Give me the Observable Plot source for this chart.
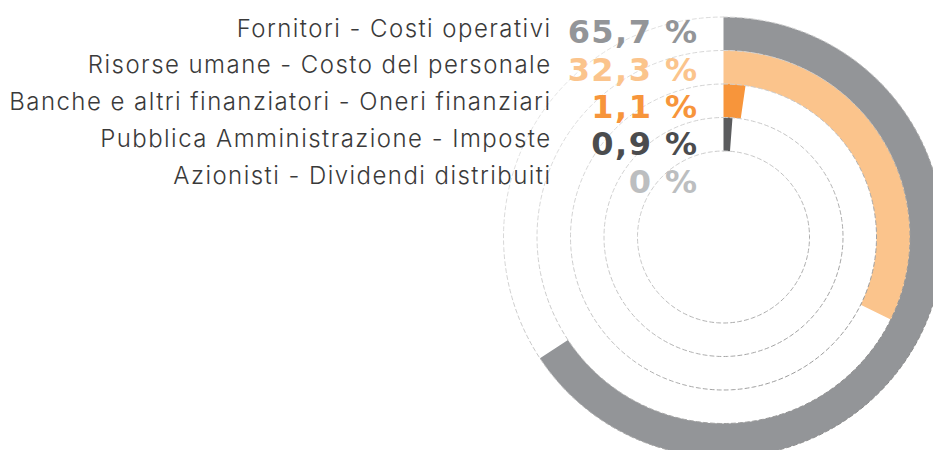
<!DOCTYPE html>
<html>
<head>
<meta charset="utf-8">
<script src="https://cdn.jsdelivr.net/npm/d3@7"></script>
<script src="https://cdn.jsdelivr.net/npm/@observablehq/plot@0.6"></script>
<style>
  html, body { margin: 0; padding: 0; background: #fff; }
  #chart svg { display: block; }
</style>
</head>
<body>
<div id="chart"></div>
<script>
// ---- data ----
const categories = [
  "Fornitori - Costi operativi",
  "Risorse umane - Costo del personale",
  "Banche e altri finanziatori - Oneri finanziari",
  "Pubblica Amministrazione - Imposte",
  "Azionisti - Dividendi distribuiti"
];
const values = [65.7, 32.3, 1.1, 0.9, 0];
const valueLabels = ["65,7 %", "32,3 %", "1,1 %", "0,9 %", "0 %"];
// arc extent of each ring as drawn in the picture (small shares are drawn wider)
const arcPercent = [65.7, 32.3, 2.3, 1.2, 0];
const ringColors = ["#939598", "#fbc48c", "#f7953b", "#5b5c5e", "#bcbec0"];
const labelColors = ["#939598", "#fbc48c", "#f7953b", "#4b4c4e", "#bcbec0"];

// ---- layout ----
const W = 933, H = 450;
const cx = 723, cy = 236.5;        // centre of the rings in pixels
const outerR = 220, band = 33.5;   // ring geometry
const steps = 240;

// ring polygons (outer arc forward, inner arc back)
const ringPts = [];
categories.forEach((c, i) => {
  const v = arcPercent[i];
  if (v <= 0) return;
  const ro = outerR - band * i, ri = ro - band;
  const a1 = v / 100 * 2 * Math.PI;
  for (let k = 0; k <= steps; k++) {
    const a = a1 * k / steps;
    ringPts.push({cat: c, color: ringColors[i], x: ro * Math.sin(a), y: ro * Math.cos(a)});
  }
  for (let k = steps; k >= 0; k--) {
    const a = a1 * k / steps;
    ringPts.push({cat: c, color: ringColors[i], x: ri * Math.sin(a), y: ri * Math.cos(a)});
  }
});

// dashed guide circles at each ring's outer edge
const guidePts = [];
categories.forEach((c, i) => {
  const r = outerR - band * i;
  for (let k = 0; k <= 360; k++) {
    const a = k / 360 * 2 * Math.PI;
    guidePts.push({r, x: r * Math.sin(a), y: r * Math.cos(a)});
  }
});

const rows = categories.map((c, i) => ({
  cat: c, label: valueLabels[i], value: values[i], color: labelColors[i],
  yCat: cy - (36 + i * 36.8),
  yVal: cy - (42.7 + i * 37.4)
}));

const gradientDefs = () => {
  const defs = d3.create("svg:defs");
  const g = defs.append("linearGradient")
    .attr("id", "guideGrad")
    .attr("gradientUnits", "userSpaceOnUse")
    .attr("x1", 520).attr("y1", 40)
    .attr("x2", 900).attr("y2", 430);
  g.append("stop").attr("offset", "0%").attr("stop-color", "#eeeeee");
  g.append("stop").attr("offset", "45%").attr("stop-color", "#c4c4c4");
  g.append("stop").attr("offset", "100%").attr("stop-color", "#7e7e7e");
  return defs.node();
};

const chart = Plot.plot({
  width: W,
  height: H,
  margin: 0,
  x: {domain: [-cx, W - cx], range: [0, W], axis: null},
  y: {domain: [-(H - cy), cy], range: [H, 0], axis: null},
  marks: [
    gradientDefs,
    Plot.line(ringPts, {x: "x", y: "y", z: "cat", fill: "color", stroke: "none", curve: "linear"}),
    Plot.line(guidePts, {x: "x", y: "y", z: "r", stroke: "url(#guideGrad)", strokeWidth: 1, strokeDasharray: "4,3", curve: "linear"}),
    Plot.text(rows, {
      x: -cx + 551, y: "yCat", text: "cat",
      textAnchor: "end", lineAnchor: "bottom",
      fill: "#3a3a3a", fontSize: 24, fontWeight: 300,
      fontFamily: "Inter, Lato, 'Open Sans', sans-serif"
    }),
    Plot.text(rows, {
      x: -cx + 698, y: "yVal", text: "label",
      textAnchor: "end", lineAnchor: "bottom",
      fill: "color", fontSize: 32, fontWeight: "bold",
      fontFamily: "'DejaVu Sans', sans-serif"
    })
  ]
});
// letter spacing on text elements
d3.select(chart).selectAll("text").style("letter-spacing", function() {
  return this.getAttribute("font-size") === "32" ? "0.4px" : "1.45px";
});
document.getElementById("chart").append(chart);
</script>
</body>
</html>
